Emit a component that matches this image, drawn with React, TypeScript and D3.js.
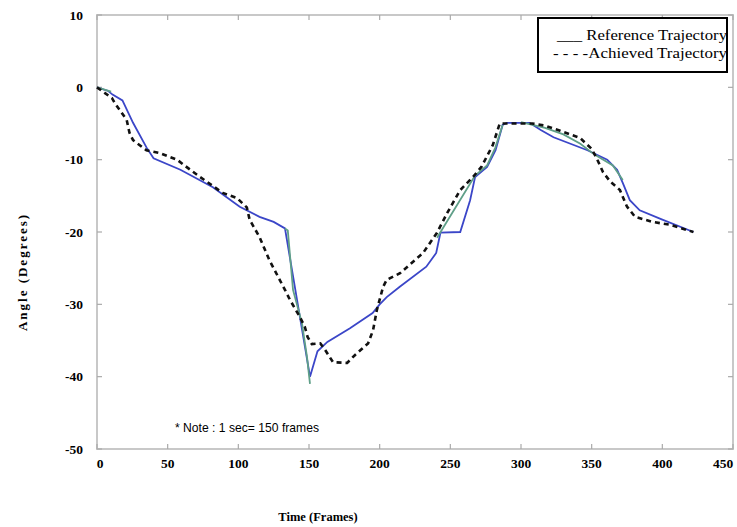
import React from "react";
import * as d3 from "d3";

const xTicks = [0, 50, 100, 150, 200, 250, 300, 350, 400, 450];
const yTicks = [10, 0, -10, -20, -30, -40, -50];

const referenceTrajectory: [number, number][] = [
  [0, 0], [8, -0.5], [11, -1], [18, -1.8], [25.5, -4.9], [35, -8.3], [40, -9.8], [59, -11.4],
  [82, -13.8], [101, -16.5], [115, -17.9], [125, -18.6], [133, -19.5], [150.7, -40], [156, -36.5],
  [163, -35.2], [179, -33.3], [195, -31.2], [200, -30], [205, -29], [214, -27.6], [233, -24.8],
  [240, -22.9], [243, -20.1], [257, -20], [264, -15.6], [267.5, -12.4], [276, -11], [282, -8.7],
  [287, -5.2], [290, -4.9], [306, -4.9], [314, -5.9], [323, -6.9], [347, -8.7], [361, -10],
  [368, -11.4], [372, -13.2], [377, -15.6], [384, -17], [400, -18.3], [422, -20],
];

const achievedTrajectory: [number, number][] = [
  [0, 0], [10.6, -1.5], [12.7, -2.2], [21, -4.5], [23, -6.3], [25.5, -7.3], [35, -8.7], [44.6, -9.1],
  [56.6, -10], [66, -11.4], [73, -12.4], [89, -14.6], [99, -15.3], [106, -16.6], [108, -18.3],
  [115, -20.7], [122, -23.9], [133, -28], [136.6, -29.4], [143.7, -31.8], [147, -33.1], [149, -34.5],
  [152, -35.5], [158, -35.4], [161.4, -36.3], [167, -38], [177, -38.1], [182.6, -37], [191.8, -35.4],
  [195.3, -33.6], [198, -30.8], [202.4, -27.6], [205, -26.6], [214.4, -25.7], [230.7, -22.9],
  [240.6, -20.1], [247.7, -17.4], [257, -14.2], [266, -12.4], [272, -11], [280, -8], [285, -5],
  [308, -5], [317, -5.3], [327.7, -6], [341.8, -7], [350, -8.5], [354, -10], [358, -11.7],
  [363, -13], [370, -14.2], [375, -16.5], [380.7, -17.9], [392.8, -18.6], [405.5, -19], [422, -20],
];

// secondary (green) trace, visible only in parts
const greenTrace: [number, number | null][] = [
  [0, 0], [10, -0.6], [11, null],
  [133, -19.5], [135, -19.8], [138.7, -28], [145, -32.6], [148.6, -37.3], [150.7, -41], [151, null],
  [240.6, -20.8], [267.5, -12.2], [276, -10.8], [281.7, -8.4], [287, -5.2], [288, null],
  [300, -4.8], [317, -5.6], [330, -6.5], [342, -7.8], [352, -9.3], [365, -10.8], [372, -12.8], [373, null],
];

const W = 737;
const H = 527;

export default function App() {
  const x = d3.scaleLinear().domain([0, 450]).range([97, 733]);
  const y = d3.scaleLinear().domain([-50, 10]).range([449, 15]);

  const line = d3
    .line<[number, number]>()
    .x((d) => x(d[0]))
    .y((d) => y(d[1]));

  const gLine = d3
    .line<[number, number | null]>()
    .defined((d) => d[1] !== null)
    .x((d) => x(d[0]))
    .y((d) => y(d[1] as number));

  const frameColor = "#c8c8c8";
  const tickFont = "'Liberation Serif', 'Times New Roman', serif";

  return (
    <svg
      width={W}
      height={H}
      style={{ position: "absolute", left: 0, top: 0, background: "#fff" }}
      xmlns="http://www.w3.org/2000/svg"
    >
      <rect x={0} y={0} width={W} height={H} fill="#fff" />
      {/* frame */}
      <rect
        x={x(0)}
        y={y(10)}
        width={x(450) - x(0)}
        height={y(-50) - y(10)}
        fill="none"
        stroke={frameColor}
        strokeWidth={2}
      />
      {/* x ticks */}
      {xTicks.map((t) => (
        <g key={"xt" + t}>
          <line x1={x(t)} x2={x(t)} y1={y(-50)} y2={y(-50) - 5} stroke="#aaa" strokeWidth={1.2} />
          <line x1={x(t)} x2={x(t)} y1={y(10)} y2={y(10) + 5} stroke="#aaa" strokeWidth={1.2} />
          <text
            x={t === 450 ? x(t) - 10 : x(t) + (t === 0 ? 3 : 0)}
            y={468}
            textAnchor="middle"
            fontFamily={tickFont}
            fontWeight="bold"
            fontSize={13.5}
            fill="#000"
          >
            {t}
          </text>
        </g>
      ))}
      {/* y ticks */}
      {yTicks.map((t) => (
        <g key={"yt" + t}>
          <line x1={x(0)} x2={x(0) + 5} y1={y(t)} y2={y(t)} stroke="#aaa" strokeWidth={1.2} />
          <line x1={x(450)} x2={x(450) - 5} y1={y(t)} y2={y(t)} stroke="#aaa" strokeWidth={1.2} />
          <text
            x={83}
            y={y(t) + 4.5}
            textAnchor="end"
            fontFamily={tickFont}
            fontWeight="bold"
            fontSize={13.5}
            fill="#000"
          >
            {t}
          </text>
        </g>
      ))}

      {/* series */}
      <path d={line(referenceTrajectory) || ""} fill="none" stroke="#3b46c8" strokeWidth={1.8} />
      <path d={gLine(greenTrace) || ""} fill="none" stroke="#5f9f88" strokeWidth={1.8} />
      <path
        d={line(achievedTrajectory) || ""}
        fill="none"
        stroke="#111"
        strokeWidth={2.6}
        strokeDasharray="5,4"
      />

      {/* note */}
      <text
        x={175}
        y={432}
        fontFamily="'Liberation Sans', Arial, sans-serif"
        fontSize={13.5}
        textLength={144}
        lengthAdjust="spacingAndGlyphs"
        fill="#000"
      >
        * Note : 1 sec= 150 frames
      </text>

      {/* legend */}
      <rect x={538} y={18} width={189} height={54} fill="#fff" stroke="#000" strokeWidth={2} />
      <text
        x={557}
        y={40}
        fontFamily={tickFont}
        fontSize={15}
        textLength={170}
        lengthAdjust="spacingAndGlyphs"
        fill="#000"
      >
        ___ Reference Trajectory
      </text>
      <text
        x={553}
        y={58}
        fontFamily={tickFont}
        fontSize={15}
        textLength={174}
        lengthAdjust="spacingAndGlyphs"
        fill="#000"
      >
        - - - -Achieved Trajectory
      </text>

      {/* axis labels */}
      <text
        x={318}
        y={521}
        textAnchor="middle"
        fontFamily={tickFont}
        fontWeight="bold"
        fontSize={12.5}
        fill="#000"
      >
        Time (Frames)
      </text>
      <text
        transform={`translate(27, 272) rotate(-90)`}
        textAnchor="middle"
        fontFamily={tickFont}
        fontWeight="bold"
        fontSize={13}
        letterSpacing={2}
        fill="#000"
      >
        Angle (Degrees)
      </text>
    </svg>
  );
}
